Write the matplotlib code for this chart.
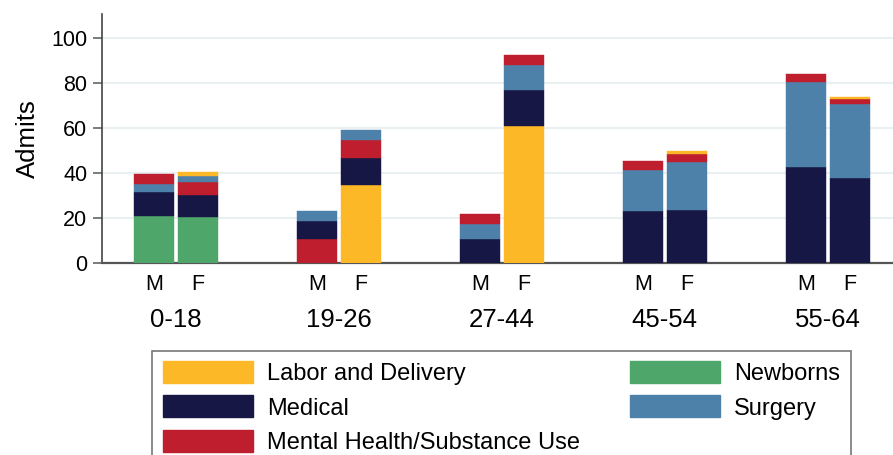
import matplotlib
matplotlib.use("Agg")
import matplotlib.pyplot as plt
from matplotlib.patches import Patch
from matplotlib.transforms import blended_transform_factory

plt.rcParams['font.family'] = ['Liberation Sans', 'DejaVu Sans']

age_groups = ["0-18", "19-26", "27-44", "45-54", "55-64"]
sexes = ["M", "F"]
series_names = ["Labor and Delivery", "Medical", "Mental Health/Substance Use", "Newborns", "Surgery"]

# values per bar: 0-18 M, 0-18 F, 19-26 M, 19-26 F, ...
labor_delivery = [0, 1.5, 0, 34.9, 0, 60.9, 0, 1.2, 0, 0.7]
medical = [10.8, 9.6, 8.2, 11.7, 10.6, 16.0, 23.1, 23.5, 42.6, 38.0]
mental_health = [4.5, 5.7, 10.6, 8.1, 4.1, 4.5, 4.1, 3.6, 3.5, 2.4]
newborns = [21.0, 20.7, 0, 0, 0, 0, 0, 0, 0, 0]
surgery = [3.2, 2.9, 4.3, 4.5, 7.0, 11.1, 18.3, 21.5, 37.9, 32.7]

values = {
    "Labor and Delivery": labor_delivery,
    "Medical": medical,
    "Mental Health/Substance Use": mental_health,
    "Newborns": newborns,
    "Surgery": surgery,
}

colors = {
    "Labor and Delivery": "#FDB827",
    "Medical": "#171745",
    "Mental Health/Substance Use": "#BE1E2D",
    "Newborns": "#4FA66A",
    "Surgery": "#4E81AA",
}

LD, MED, MH, NB, SU = series_names
# stacking order (bottom to top) for each bar
stack_order = [
    [NB, MED, SU, MH],
    [NB, MED, MH, SU, LD],
    [MH, MED, SU],
    [LD, MED, MH, SU],
    [MED, SU, MH],
    [LD, MED, SU, MH],
    [MED, SU, MH],
    [MED, SU, MH, LD],
    [MED, SU, MH],
    [MED, SU, MH, LD],
]

fig = plt.figure(figsize=(8.93, 4.55), dpi=100)
ax = fig.add_axes([102 / 893, 191.7 / 455, 1 - 102 / 893, (263.3 - 14) / 455])

offset = 0.135
width = 0.249
positions = []
for g in range(len(age_groups)):
    for s in range(len(sexes)):
        positions.append(g + (-offset if s == 0 else offset))

for i, pos in enumerate(positions):
    bottom = 0
    for name in stack_order[i]:
        v = values[name][i]
        ax.bar(pos, v, width=width, bottom=bottom, color=colors[name],
               edgecolor=colors[name], linewidth=0.3, zorder=3)
        bottom += v

ax.set_xlim(-0.454, 4.40)
ax.set_ylim(0, 110.6)
ax.set_yticks([0, 20, 40, 60, 80, 100])
ax.yaxis.grid(True, color="#E8F0F2", linewidth=1.5, zorder=0)
ax.set_axisbelow(True)

for sp in ["top", "right"]:
    ax.spines[sp].set_visible(False)
ax.spines["left"].set_color("#444444")
ax.spines["left"].set_linewidth(1.2)
ax.spines["bottom"].set_color("#555555")
ax.spines["bottom"].set_linewidth(1.6)

ax.tick_params(axis="y", length=6.5, width=1.2, color="#666666", pad=4, labelsize=15.5)
ax.set_xticks(positions)
ax.set_xticklabels(sexes * len(age_groups), fontsize=15.5)
ax.tick_params(axis="x", length=0, pad=8)

trans = blended_transform_factory(ax.transData, ax.transAxes)
for g, lab in enumerate(age_groups):
    ax.text(g, -0.2274, lab, transform=trans, ha="center", va="center", fontsize=18.5)

ax.set_ylabel("Admits", fontsize=18.5, labelpad=8)

handles = [Patch(facecolor=colors[n], edgecolor=colors[n]) for n in series_names]
leg = fig.legend(handles, series_names, ncol=2, mode="expand",
                 bbox_to_anchor=(152.3 / 893, 0.2292 - 0.6, (850.7 - 152.3) / 893, 0.6),
                 loc="upper left", borderaxespad=0, fontsize=17,
                 handlelength=3.8, handleheight=1.05, handletextpad=0.6,
                 labelspacing=0.43, borderpad=0.45, fancybox=False,
                 frameon=True)
leg.get_frame().set_edgecolor("#555555")
leg.get_frame().set_linewidth(1.2)

fig.savefig("out.png", dpi=100)
